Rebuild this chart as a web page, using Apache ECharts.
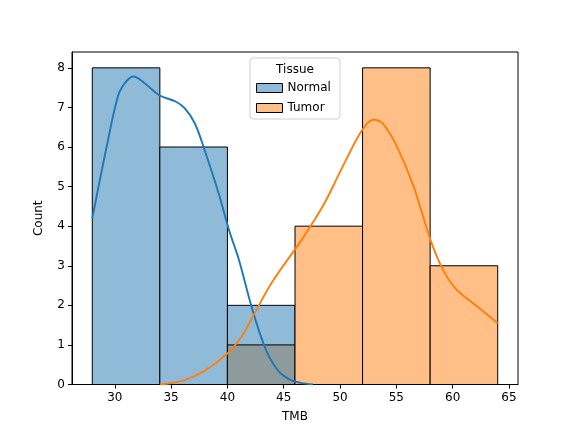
<!DOCTYPE html>
<html>
<head>
<meta charset="utf-8">
<script src="https://cdn.jsdelivr.net/npm/echarts@6/dist/echarts.min.js"></script>
<style>
  html, body { margin: 0; padding: 0; background: #fff; }
  #chart { width: 576px; height: 432px; }
</style>
</head>
<body>
<div id="chart"></div>
<script>
// histogram bins (shared by both groups)
const binEdges = [28, 34, 40, 46, 52, 58, 64]
const normalCounts = [8, 6, 2, 0, 0, 0]
const tumorCounts = [0, 0, 1, 4, 8, 3]

// kde curves
const normalKdeX = [28, 29.2, 30.3, 31, 31.65, 32.7, 34.0, 35.4, 36.2, 37.1, 38.0, 39.2, 40.2, 41.0, 42.2, 43.4, 44.5, 45.5, 46.5, 47.6]
const normalKdeY = [4.2, 5.9, 7.3, 7.65, 7.78, 7.6, 7.3, 7.15, 6.98, 6.6, 5.9, 4.85, 3.85, 3.17, 1.91, 0.89, 0.35, 0.13, 0.04, 0.0]
const tumorKdeX = [34.0, 36.0, 38.0, 40.1, 41.3, 42.3, 44.0, 46.6, 48.5, 50.0, 51.5, 52.4, 53.0, 53.8, 55.0, 56.5, 58.0, 59.1, 60.3, 62.1, 64.0]
const tumorKdeY = [0, 0.09, 0.35, 0.81, 1.23, 1.74, 2.6, 3.66, 4.52, 5.37, 6.21, 6.59, 6.69, 6.59, 6.04, 5.03, 3.68, 2.92, 2.41, 1.99, 1.55]

const xTicks = [30, 35, 40, 45, 50, 55, 60, 65]
const yTicks = [0, 1, 2, 3, 4, 5, 6, 7, 8]

const FONT = 'DejaVu Sans'
const normalFill = '#8fbbd9'
const tumorFill = '#ffbf86'
const overlapFill = '#8e9b9d'

function binRows(counts) {
  return counts.map((c, i) => [binEdges[i], binEdges[i + 1], c, i])
}

function barRenderer(fillFor) {
  return (params, api) => {
    const count = api.value(2)
    if (!count) return null
    const p0 = api.coord([api.value(0), count])
    const p1 = api.coord([api.value(1), 0])
    return {
      type: 'rect',
      shape: { x: p0[0], y: p0[1], width: p1[0] - p0[0], height: p1[1] - p0[1] },
      style: { fill: fillFor(api.value(3)), stroke: '#000', lineWidth: 1 }
    }
  }
}

const chart = echarts.init(document.getElementById('chart'))

chart.setOption({
  animation: false,
  backgroundColor: '#fff',
  textStyle: { fontFamily: FONT },
  grid: {
    left: 72, right: 58, top: 52, bottom: 47.5,
    show: true, borderColor: '#000', borderWidth: 1, backgroundColor: 'transparent'
  },
  xAxis: {
    type: 'value',
    min: 26.2,
    max: 65.8,
    name: 'TMB',
    nameLocation: 'middle',
    nameGap: 26,
    nameTextStyle: { fontSize: 12, color: '#000', fontFamily: FONT },
    axisLine: { show: true, lineStyle: { color: '#000', width: 1 } },
    axisTick: { show: true, length: 4, lineStyle: { color: '#000' }, customValues: xTicks },
    axisLabel: { fontSize: 12, color: '#000', margin: 7, customValues: xTicks },
    splitLine: { show: false }
  },
  yAxis: {
    type: 'value',
    min: 0,
    max: 8.4,
    name: 'Count',
    nameLocation: 'middle',
    nameGap: 27,
    nameRotate: 90,
    nameTextStyle: { fontSize: 12, color: '#000', fontFamily: FONT },
    axisLine: { show: true, lineStyle: { color: '#000', width: 1 } },
    axisTick: { show: true, length: 4, lineStyle: { color: '#000' }, customValues: yTicks },
    axisLabel: { fontSize: 12, color: '#000', margin: 7, customValues: yTicks },
    splitLine: { show: false }
  },
  legend: {
    orient: 'vertical',
    left: 250,
    top: 58,
    padding: [24, 9, 5, 6],
    itemGap: 8,
    itemWidth: 26,
    itemHeight: 9,
    itemTextGap: 9,
    borderColor: '#d0d0d0',
    borderWidth: 1,
    borderRadius: 3,
    backgroundColor: 'rgba(255,255,255,0.8)',
    textStyle: { fontSize: 12, color: '#000', fontFamily: FONT },
    data: [
      { name: 'Normal', icon: 'rect', itemStyle: { color: normalFill, borderColor: '#000', borderWidth: 1 } },
      { name: 'Tumor', icon: 'rect', itemStyle: { color: tumorFill, borderColor: '#000', borderWidth: 1 } }
    ]
  },
  graphic: [{
    type: 'text',
    x: 295, y: 70,
    z: 100,
    style: { text: 'Tissue', fontSize: 12, fontFamily: FONT, fill: '#000', textAlign: 'center', textVerticalAlign: 'middle' }
  }],
  series: [
    {
      name: 'Normal',
      type: 'custom',
      itemStyle: { color: normalFill, borderColor: '#000' },
      renderItem: barRenderer(() => normalFill),
      encode: { x: [0, 1], y: 2 },
      data: binRows(normalCounts)
    },
    {
      name: 'Tumor',
      type: 'custom',
      itemStyle: { color: tumorFill, borderColor: '#000' },
      renderItem: barRenderer(i => (normalCounts[i] > 0 ? overlapFill : tumorFill)),
      encode: { x: [0, 1], y: 2 },
      data: binRows(tumorCounts)
    },
    {
      name: 'Normal',
      type: 'line',
      smooth: 0.35,
      showSymbol: false,
      lineStyle: { color: '#1f77b4', width: 1.9 },
      itemStyle: { color: normalFill },
      data: normalKdeX.map((x, i) => [x, normalKdeY[i]])
    },
    {
      name: 'Tumor',
      type: 'line',
      smooth: 0.35,
      showSymbol: false,
      lineStyle: { color: '#ff7f0e', width: 1.9 },
      itemStyle: { color: tumorFill },
      data: tumorKdeX.map((x, i) => [x, tumorKdeY[i]])
    }
  ]
})
</script>
</body>
</html>
